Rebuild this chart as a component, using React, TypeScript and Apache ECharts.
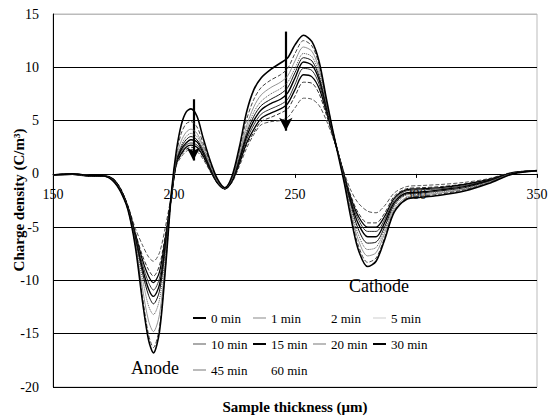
import React, { useEffect, useRef } from "react";
import * as echarts from "echarts";

const X = [150, 158, 165, 171, 175, 178, 181, 184, 187, 189.5, 191.5, 194, 196.5, 199, 201, 203, 205, 207, 209.5, 212, 215, 218, 221, 224, 227, 230, 233, 236, 240, 244, 247, 250, 253.5, 257, 260, 263, 265.5, 268, 270.5, 273, 276, 280, 283.5, 287, 291, 296, 302, 310, 320, 330, 340, 350];

const NAMES = ["0 min", "1 min", "2 min", "5 min", "10 min", "15 min", "20 min", "30 min", "45 min", "60 min"];

const Y0 = [-0.1, 0, -0.15, -0.2, -0.7, -1.7, -3.4, -6.8, -12.0, -15.6, -16.8, -14.8, -8.8, -1.6, 2.2, 4.6, 5.8, 6.1, 5.4, 3.4, 1.2, -0.5, -1.3, -0.2, 2.5, 5.8, 7.9, 9.0, 9.8, 10.4, 10.9, 12.1, 13.0, 12.4, 10.5, 7.0, 4.2, 1.6, -1.0, -4.0, -7.0, -8.7, -8.2, -6.2, -3.6, -2.4, -2.2, -2.0, -1.6, -0.9, 0.0, 0.3];
const Y1 = [-0.1, -0.05, -0.2, -0.2, -0.7, -1.7, -3.4, -6.7, -11.6, -15.1, -16.3, -14.4, -8.6, -1.7, 1.9, 3.8, 4.7, 4.9, 4.4, 2.9, 1.0, -0.6, -1.3, -0.3, 2.2, 5.1, 7.0, 8.1, 8.8, 9.3, 9.9, 11.3, 12.5, 12.0, 10.2, 6.9, 4.2, 1.7, -0.9, -3.7, -6.6, -8.3, -7.9, -6.0, -3.5, -2.3, -2.1, -1.9, -1.5, -0.85, 0.0, 0.3];
const Y2 = [-0.1, 0, -0.15, -0.2, -0.6, -1.6, -3.3, -6.5, -10.8, -13.8, -14.8, -13.2, -8.0, -1.8, 1.6, 3.1, 3.9, 4.2, 3.8, 2.6, 0.8, -0.7, -1.35, -0.4, 1.9, 4.5, 6.3, 7.4, 8.1, 8.6, 9.2, 10.6, 11.9, 11.5, 9.8, 6.7, 4.1, 1.8, -0.8, -3.4, -6.1, -7.7, -7.4, -5.6, -3.3, -2.2, -2.0, -1.8, -1.45, -0.8, 0.05, 0.3];
const Y3 = [-0.1, -0.05, -0.2, -0.2, -0.7, -1.6, -3.3, -6.3, -9.9, -12.4, -13.2, -11.8, -7.3, -1.8, 1.4, 2.7, 3.5, 3.8, 3.5, 2.4, 0.7, -0.7, -1.35, -0.5, 1.7, 4.1, 5.8, 6.8, 7.5, 8.0, 8.6, 9.9, 11.3, 11.0, 9.4, 6.5, 4.0, 1.8, -0.7, -3.1, -5.6, -7.1, -6.9, -5.3, -3.1, -2.0, -1.9, -1.7, -1.4, -0.75, 0.05, 0.3];
const Y4 = [-0.1, 0, -0.15, -0.2, -0.6, -1.6, -3.3, -6.1, -9.3, -11.4, -12.2, -11.0, -6.9, -1.9, 1.3, 2.5, 3.2, 3.5, 3.2, 2.2, 0.6, -0.8, -1.4, -0.5, 1.5, 3.8, 5.4, 6.4, 7.0, 7.5, 8.1, 9.5, 10.9, 10.6, 9.1, 6.3, 4.0, 1.8, -0.6, -2.8, -5.1, -6.5, -6.4, -5.0, -2.9, -1.9, -1.8, -1.6, -1.3, -0.7, 0.05, 0.3];
const Y5 = [-0.1, -0.05, -0.2, -0.2, -0.6, -1.5, -3.2, -6.0, -8.9, -10.8, -11.5, -10.4, -6.6, -1.9, 1.2, 2.3, 2.9, 3.2, 3.0, 2.0, 0.5, -0.8, -1.4, -0.6, 1.3, 3.5, 5.0, 6.0, 6.6, 7.0, 7.6, 9.0, 10.5, 10.2, 8.8, 6.2, 3.9, 1.8, -0.5, -2.6, -4.6, -5.9, -5.9, -4.6, -2.7, -1.8, -1.7, -1.5, -1.2, -0.65, 0.1, 0.3];
const Y6 = [-0.1, 0, -0.15, -0.2, -0.6, -1.5, -3.2, -5.8, -8.5, -10.2, -10.9, -9.8, -6.3, -1.9, 1.1, 2.1, 2.7, 2.9, 2.7, 1.9, 0.4, -0.8, -1.4, -0.6, 1.2, 3.2, 4.6, 5.6, 6.1, 6.5, 7.0, 8.4, 9.9, 9.7, 8.4, 6.0, 3.9, 1.8, -0.4, -2.4, -4.2, -5.4, -5.4, -4.3, -2.5, -1.6, -1.5, -1.4, -1.1, -0.6, 0.1, 0.3];
const Y7 = [-0.1, -0.05, -0.2, -0.2, -0.5, -1.5, -3.1, -5.6, -8.1, -9.6, -10.2, -9.2, -5.9, -2.0, 1.0, 1.9, 2.5, 2.7, 2.5, 1.7, 0.35, -0.9, -1.4, -0.7, 1.0, 2.9, 4.2, 5.2, 5.7, 6.1, 6.6, 7.9, 9.3, 9.1, 8.0, 5.8, 3.8, 1.8, -0.3, -2.2, -3.9, -5.0, -5.0, -4.0, -2.3, -1.5, -1.4, -1.3, -1.0, -0.55, 0.1, 0.3];
const Y8 = [-0.1, 0, -0.15, -0.2, -0.5, -1.4, -3.1, -5.5, -7.7, -9.0, -9.6, -8.6, -5.6, -2.0, 0.9, 1.8, 2.3, 2.5, 2.3, 1.6, 0.3, -0.9, -1.4, -0.7, 0.9, 2.7, 3.9, 4.9, 5.3, 5.7, 6.1, 7.3, 8.6, 8.5, 7.5, 5.5, 3.7, 1.8, -0.2, -2.0, -3.6, -4.6, -4.6, -3.7, -2.1, -1.4, -1.3, -1.2, -0.95, -0.5, 0.1, 0.3];
const Y9 = [-0.1, 0, -0.2, -0.2, -0.5, -1.4, -3.0, -5.1, -6.7, -7.8, -8.2, -7.4, -4.9, -1.9, 0.8, 1.6, 2.1, 2.3, 2.1, 1.4, 0.2, -0.9, -1.4, -0.8, 0.7, 2.4, 3.7, 4.6, 4.9, 5.0, 5.3, 6.2, 7.1, 7.0, 6.4, 5.0, 3.5, 1.8, 0.0, -1.5, -2.7, -3.5, -3.65, -3.0, -1.8, -1.2, -1.1, -1.0, -0.8, -0.45, 0.15, 0.3];

const SERIES_Y = [Y0, Y1, Y2, Y3, Y4, Y5, Y6, Y7, Y8, Y9];

// arrows: [x, yStart, yEnd]
const ARROWS = [
  [208, 7.0, 1.25],
  [246.2, 13.35, 4.05],
];

const STYLES = [
  { color: "#000", width: 1.6, type: "solid" },
  { color: "#444", width: 1, type: "dashed" },
  { color: "#777", width: 0.8, type: "solid" },
  { color: "#555", width: 1, type: "dotted" },
  { color: "#111", width: 1, type: "solid" },
  { color: "#000", width: 1.4, type: "solid" },
  { color: "#333", width: 1, type: "solid" },
  { color: "#000", width: 1.3, type: "solid" },
  { color: "#333", width: 1, type: "dashed" },
  { color: "#555", width: 1, type: "dashed" },
];
const LEGEND_COLORS = ["#000", "#888", "#fff", "#ccc", "#555", "#000", "#777", "#000", "#777", "#fff"];
const LEGEND_H = [2, 1, 1, 1, 1, 2, 1, 2, 1, 1];

const FONT = "Liberation Serif, Times New Roman, serif";
const LEG_X = [193, 253, 313, 373];
const LEG_Y = [318, 344, 370];

export default function App() {
  const ref = useRef<HTMLDivElement>(null);
  useEffect(() => {
    if (!ref.current) return;
    const chart = echarts.init(ref.current, null, { renderer: "svg" });
    const series: any[] = SERIES_Y.map((ys, i) => ({
      name: NAMES[i],
      type: "line",
      data: X.map((x, j) => [x, ys[j]]),
      symbol: "none",
      smooth: 0.3,
      lineStyle: { ...STYLES[i] },
      itemStyle: { color: STYLES[i].color },
      z: 10 - i,
      ...(i === 0
        ? {
            markLine: {
              silent: true,
              symbol: ["none", "arrow"],
              symbolSize: [10, 13],
              label: { show: false },
              lineStyle: { color: "#000", width: 2.2, type: "solid" },
              data: ARROWS.map((a) => [
                { coord: [a[0], a[1]] },
                { coord: [a[0], a[2]] },
              ]),
            },
          }
        : {}),
    }));
    const legends = NAMES.map((name, k) => ({
      data: [name],
      left: LEG_X[k % 4],
      top: LEG_Y[Math.floor(k / 4)] - 7,
      padding: 0,
      icon: "rect",
      itemWidth: 13,
      itemHeight: LEGEND_H[k],
      itemGap: 0,
      selectedMode: false,
      itemStyle: { color: LEGEND_COLORS[k] },
      textStyle: { fontFamily: FONT, fontSize: 13, color: "#000", lineHeight: 14 },
    }));
    chart.setOption({
      animation: false,
      backgroundColor: "#fff",
      textStyle: { fontFamily: FONT },
      grid: { left: 53, right: 12, top: 14, bottom: 30, show: true, borderColor: "#bbb", borderWidth: 1, outerBoundsMode: "none" },
      legend: legends,
      xAxis: {
        type: "value",
        min: 150,
        max: 350,
        interval: 50,
        position: "bottom",
        offset: -213.1,
        axisLine: { onZero: false, lineStyle: { color: "#000", width: 1 } },
        axisTick: { show: true, length: 4, lineStyle: { color: "#000" } },
        axisLabel: { fontFamily: FONT, fontSize: 14, color: "#000", margin: 14 },
        splitLine: { show: false },
      },
      yAxis: {
        type: "value",
        min: -20,
        max: 15,
        interval: 5,
        axisLine: { show: true, onZero: false, lineStyle: { color: "#000", width: 1 } },
        axisTick: { show: false },
        axisLabel: { fontFamily: FONT, fontSize: 14, color: "#000", margin: 14 },
        splitLine: {
          show: true,
          lineStyle: { color: ["#000", "#000", "#000", "#000", "#000", "#000", "#000", "#bbb"], width: 1 },
        },
      },
      graphic: [
        {
          type: "text",
          x: 19,
          y: 200,
          rotation: Math.PI / 2,
          style: { text: "Charge density (C/m³)", fontFamily: FONT, fontSize: 15, fontWeight: "bold", fill: "#000", align: "center", verticalAlign: "middle" },
        },
        {
          type: "text",
          x: 295,
          y: 407,
          style: { text: "Sample thickness (μm)", fontFamily: FONT, fontSize: 15, fontWeight: "bold", fill: "#000", align: "center", verticalAlign: "middle" },
        },
        {
          type: "text",
          x: 155,
          y: 368,
          style: { text: "Anode", fontFamily: FONT, fontSize: 18, fill: "#000", align: "center", verticalAlign: "middle" },
        },
        {
          type: "text",
          x: 379,
          y: 286,
          style: { text: "Cathode", fontFamily: FONT, fontSize: 18, fill: "#000", align: "center", verticalAlign: "middle" },
        },
      ],
      series,
    });
    return () => chart.dispose();
  }, []);
  return <div ref={ref} style={{ position: "fixed", left: 0, top: 0, width: 549, height: 417, background: "#fff" }} />;
}
